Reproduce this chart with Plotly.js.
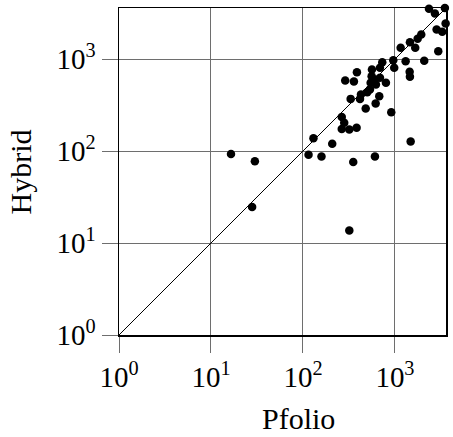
<!DOCTYPE html>
<html>
<head>
<meta charset="utf-8">
<script src="https://cdn.plot.ly/plotly-3.0.1.min.js"></script>
<style>html,body{margin:0;padding:0;background:#fff;}#chart{width:453px;height:437px;}</style>
</head>
<body>
<div id="chart"></div>
<script>
const pfolio = [2344, 2722, 3490, 3556, 2838, 3267, 1932, 1765, 1455, 1662, 1153, 2957, 959, 1307, 2081, 728, 982, 687, 562, 386, 1445, 1455, 558, 602, 288, 358, 687, 798, 544, 621, 535, 500, 427, 675, 417, 330, 617, 481, 912, 264, 281, 264, 319, 383, 130, 208, 1482, 115, 159, 606, 352, 319, 16.5, 30, 28];
const hybrid = [3515, 3126, 3580, 2432, 2094, 1976, 1847, 1658, 1523, 1324, 1324, 1216, 970, 946, 956, 923, 802, 802, 769, 719, 726, 641, 650, 598, 584, 569, 625, 551, 551, 528, 466, 435, 411, 394, 369, 369, 328, 290, 264, 235, 203, 174, 171, 179, 138, 120, 127, 91, 87, 87, 76, 13.7, 93, 77.5, 24.7];
const diagonal = [1, 5000];
const tickValues = [1, 10, 100, 1000];
const tickLabels = ['10<sup>0</sup>', '10<sup>1</sup>', '10<sup>2</sup>', '10<sup>3</sup>'];
const xTitle = 'Pfolio';
const yTitle = 'Hybrid';

const font = '"Liberation Serif", "Times New Roman", serif';
const axisCommon = {
  type: 'log',
  range: [0, 3.555],
  tickvals: tickValues,
  ticktext: tickLabels,
  ticks: 'outside',
  ticklen: 16,
  tickwidth: 1,
  tickcolor: '#6e6e6e',
  showgrid: true,
  gridcolor: '#6e6e6e',
  gridwidth: 1,
  showline: true,
  linecolor: '#000',
  linewidth: 1.5,
  mirror: true,
  zeroline: false,
  tickfont: {family: font, size: 29, color: '#000'},
  fixedrange: true
};

const data = [
  {x: diagonal, y: diagonal, type: 'scatter', mode: 'lines', line: {color: '#000', width: 1}, hoverinfo: 'skip', showlegend: false},
  {x: pfolio, y: hybrid, type: 'scatter', mode: 'markers', marker: {color: '#000', size: 8.5}, showlegend: false, cliponaxis: false}
];

const layout = {
  width: 453, height: 437,
  margin: {l: 119, r: 7, t: 8, b: 101.5},
  paper_bgcolor: '#fff', plot_bgcolor: '#fff',
  xaxis: Object.assign({}, axisCommon),
  yaxis: Object.assign({}, axisCommon),
  showlegend: false,
  annotations: [
    {text: xTitle, xref: 'paper', yref: 'paper', x: 0.548, y: -0.255, xanchor: 'center', yanchor: 'middle', showarrow: false, font: {family: font, size: 30, color: '#000'}},
    {text: yTitle, xref: 'paper', yref: 'paper', x: -0.3, y: 0.5, xanchor: 'center', yanchor: 'middle', textangle: -90, showarrow: false, font: {family: font, size: 30, color: '#000'}}
  ]
};

Plotly.newPlot('chart', data, layout, {staticPlot: true});
</script>
</body>
</html>
